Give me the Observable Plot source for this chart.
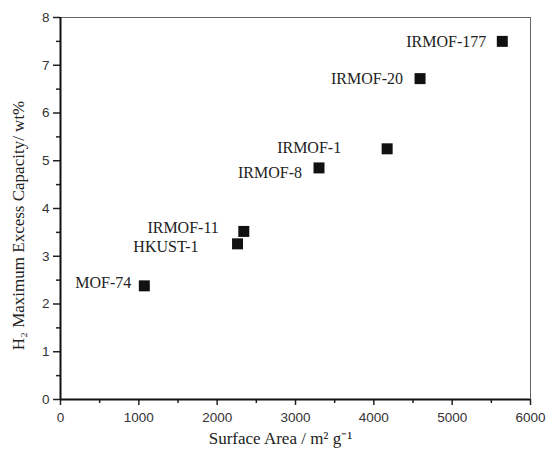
<!DOCTYPE html>
<html>
<head>
<meta charset="utf-8">
<script src="https://cdn.jsdelivr.net/npm/d3@7"></script>
<script src="https://cdn.jsdelivr.net/npm/@observablehq/plot@0.6"></script>
<style>
  html, body { margin: 0; padding: 0; background: #fff; }
  #chart svg { display: block; }
</style>
</head>
<body>
<div id="chart"></div>
<script>
// Hydrogen uptake of metal-organic frameworks vs. BET surface area
const frameworks = ["MOF-74", "HKUST-1", "IRMOF-11", "IRMOF-8", "IRMOF-1", "IRMOF-20", "IRMOF-177"];
const surfaceArea = [1070, 2260, 2340, 3300, 4170, 4590, 5640];   // m² g⁻¹
const excessCapacity = [2.38, 3.26, 3.52, 4.85, 5.25, 6.72, 7.50]; // wt%

const xTicks = [0, 1000, 2000, 3000, 4000, 5000, 6000];
const yTicks = [0, 1, 2, 3, 4, 5, 6, 7, 8];

// label placement next to each marker (pixels, label end relative to marker)
const labelDx = [-13, -39, -25, -17, -46, -17, -16];
const labelDy = [-3, 3, -4, 5, -1, 0, 0];

const rows = frameworks.map((name, i) => ({
  name, area: surfaceArea[i], capacity: excessCapacity[i], dx: labelDx[i], dy: labelDy[i]
}));

const serif = "'Liberation Serif', 'Times New Roman', serif";
const sans = "'Liberation Sans', Arial, sans-serif";

const xMinor = d3.range(500, 6000, 1000);
const yMinor = d3.range(0.5, 8, 1);

const labelMarks = rows.map(r =>
  Plot.text([r], {
    x: "area", y: "capacity", text: "name",
    textAnchor: "end", dx: r.dx, dy: r.dy,
    fontFamily: serif, fontSize: 16, fill: "#222"
  })
);

const chart = Plot.plot({
  width: 550,
  height: 452,
  marginLeft: 60,
  marginRight: 20,
  marginTop: 17,
  marginBottom: 53,
  style: { background: "#fff", color: "#222" },
  x: { domain: [0, 6000] },
  y: { domain: [0, 8] },
  marks: [
    Plot.frame({ stroke: "#666", strokeWidth: 1 }),
    Plot.axisX({ ticks: xTicks, tickSize: 6, tickPadding: 7, tickFormat: d => String(d),
      fontFamily: sans, fontSize: 13.5, strokeWidth: 1.5, fill: "#333", label: null }),
    Plot.axisX({ ticks: xMinor, tickSize: 4, text: null, strokeWidth: 1.5, label: null }),
    Plot.axisY({ ticks: yTicks, tickSize: 7, tickPadding: 4, tickFormat: d => String(d),
      fontFamily: sans, fontSize: 13.5, strokeWidth: 1.5, fill: "#333", label: null }),
    Plot.axisY({ ticks: yMinor, tickSize: 4, text: null, strokeWidth: 1.5, label: null }),
    Plot.ruleX([0], { stroke: "#111", strokeWidth: 2 }),
    Plot.ruleY([0], { stroke: "#111", strokeWidth: 2 }),
    Plot.dot(rows, { x: "area", y: "capacity", symbol: "square", r: 6.2, fill: "#111", stroke: "none" }),
    ...labelMarks,
    Plot.text(["Surface Area / m² g⁻¹"], {
      frameAnchor: "bottom", textAnchor: "middle", dy: 44, dx: -15,
      fontFamily: serif, fontSize: 17, fill: "#222"
    }),
    Plot.text(["H₂ Maximum Excess Capacity/ wt%"], {
      frameAnchor: "left", textAnchor: "middle", rotate: -90, dx: -42, dy: 17,
      fontFamily: serif, fontSize: 17, fill: "#222"
    })
  ]
});

document.getElementById("chart").appendChild(chart);
</script>
</body>
</html>
